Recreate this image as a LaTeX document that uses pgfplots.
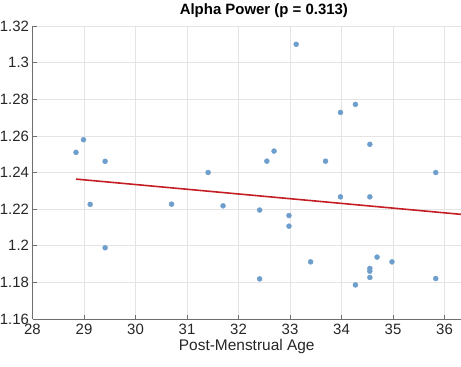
\documentclass[border=0pt]{standalone}
\usepackage{fontspec}
\setmainfont{Liberation Sans}
\usepackage{pgfplots}
\pgfplotsset{compat=1.18}
\definecolor{ptblue}{RGB}{110,158,203}
\definecolor{fitred}{RGB}{196,30,36}
\definecolor{gridgray}{RGB}{228,228,228}
\definecolor{axgray}{RGB}{110,110,110}
\begin{document}
\begin{tikzpicture}
\begin{axis}[
  scale only axis,
  width=428.5bp, height=293bp,
  xmin=28, xmax=36.32,
  ymin=1.16, ymax=1.32,
  xtick={28,29,...,36},
  ytick={1.16,1.18,...,1.32},
  yticklabel style={/pgf/number format/fixed,/pgf/number format/precision=2},
  /pgf/number format/assume math mode=true,
  tick label style={font=\fontsize{15}{17}\selectfont, text=black!85},
  xticklabel style={yshift=-2bp},
  grid=major,
  major grid style={gridgray, line width=0.6pt},
  axis x line*=bottom, axis y line*=left,
  axis line style={axgray, line width=0.6pt},
  tick style={axgray, line width=0.6pt},
  major tick length=4bp,
  tick align=inside,
  xlabel={Post-Menstrual Age},
  xlabel style={font=\fontsize{15.5}{17}\selectfont, text=black!85, yshift=3bp},
  title={\textbf{Alpha Power (p = 0.313)}},
  title style={font=\fontsize{15}{17}\selectfont, at={(0.54,1)}, anchor=south, yshift=-1bp},
  clip=true,
]
\addplot[only marks, mark=*, mark size=2.5bp, color=ptblue] coordinates {
(28.845,1.2510) (28.99,1.2579) (29.41,1.2461) (31.41,1.2400)
(33.12,1.3100) (33.98,1.2728) (34.27,1.2772) (34.55,1.2554)
(32.69,1.2517) (32.55,1.2462) (33.69,1.2462) (35.83,1.2400)
(29.12,1.2226) (29.41,1.1989) (30.70,1.2227) (31.70,1.2218)
(32.41,1.2195) (32.98,1.2165) (32.98,1.2107) (33.98,1.2267)
(34.55,1.2267) (33.40,1.1912) (34.69,1.1938) (34.98,1.1912)
(34.55,1.1876) (34.55,1.1861) (34.55,1.1827) (32.41,1.1819)
(34.27,1.1786) (35.83,1.1821)
};
\addplot[fitred, line width=1.6pt] coordinates {(28.845,1.2364) (37.0,1.2154)};
\end{axis}
\pgfresetboundingbox
\path (current axis.south west) ++(-32.5bp,-48bp) rectangle ++(461bp,367bp);
\end{tikzpicture}
\end{document}
